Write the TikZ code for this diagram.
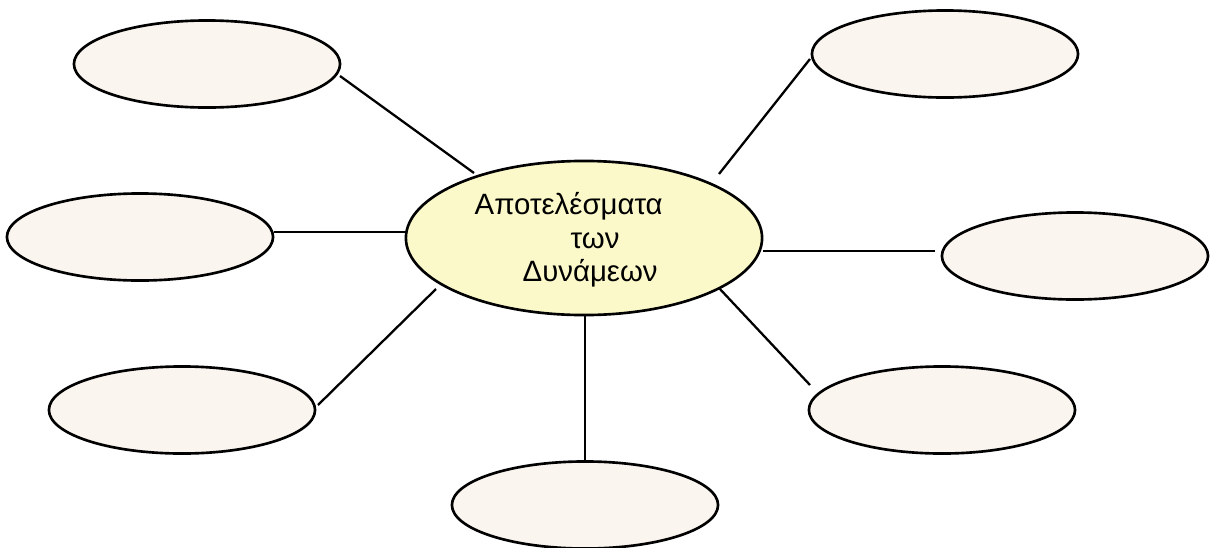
\documentclass[tikz,border=0pt]{standalone}
\usepackage{fontspec}
\setmainfont{Liberation Sans}
\usetikzlibrary{shapes.geometric}
\definecolor{outerfill}{HTML}{FBF5EF}
\definecolor{centerfill}{HTML}{FBF9C9}
\tikzset{
  leaf/.style={ellipse, draw=black, line width=0.75pt, fill=outerfill, inner sep=0pt,
    minimum width=2.66cm, minimum height=0.87cm},
  hub/.style={ellipse, draw=black, line width=0.75pt, fill=centerfill, inner sep=0pt,
    minimum width=3.56cm, minimum height=1.54cm},
  lbl/.style={anchor=base west, inner sep=0pt, font=\fontsize{8.35}{9.4}\selectfont},
  conn/.style={line width=0.65pt, line cap=butt}
}
\begin{document}
\begin{tikzpicture}[x=0.01cm,y=-0.01cm]
\useasboundingbox (0,0) rectangle (1217,548);
% nodes
\node[hub] (hub) at (584,238) {};
\node[lbl] (t1) at (474,214) {Αποτελέσματα};
\node[lbl] (t2) at (570,248) {των};
\node[lbl] (t3) at (522,281) {Δυνάμεων};
\node[leaf] (tl) at (207,64) {};
\node[leaf] (tr) at (945,54) {};
\node[leaf] (ml) at (140,237) {};
\node[leaf] (mr) at (1075,256) {};
\node[leaf] (bl) at (182,410) {};
\node[leaf] (br) at (942,410) {};
\node[leaf] (bm) at (585,505) {};
% connector ends
\coordinate (tlA) at (340,76);  \coordinate (tlB) at (474,173);
\coordinate (trA) at (810,59);  \coordinate (trB) at (719,174);
\coordinate (mlA) at (274,232); \coordinate (mlB) at (407,232);
\coordinate (mrA) at (763,251); \coordinate (mrB) at (935,251);
\coordinate (blA) at (318,405); \coordinate (blB) at (436,289);
\coordinate (brA) at (719,288); \coordinate (brB) at (810,385);
\coordinate (bmA) at (585,315); \coordinate (bmB) at (585,462);
\draw[conn] (tlA) -- (tlB);
\draw[conn] (trA) -- (trB);
\draw[conn] (mlA) -- (mlB);
\draw[conn] (mrA) -- (mrB);
\draw[conn] (blA) -- (blB);
\draw[conn] (brA) -- (brB);
\draw[conn] (bmA) -- (bmB);
\end{tikzpicture}
\end{document}
